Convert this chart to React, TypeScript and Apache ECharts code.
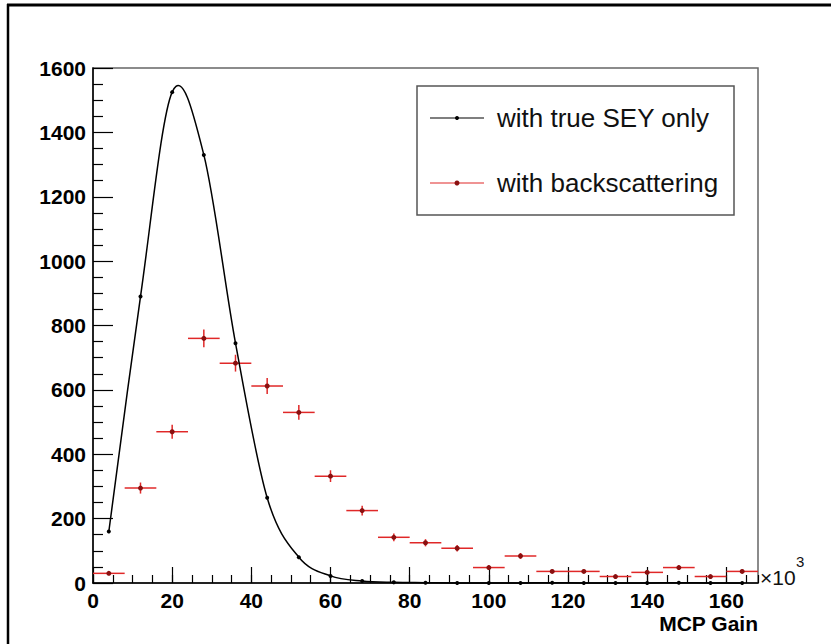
import React, { useEffect, useRef } from "react";
import * as echarts from "echarts";

// Bin centres (MCP gain, ×10^3)
const binCenters = [4, 12, 20, 28, 36, 44, 52, 60, 68, 76, 84, 92, 100, 108, 116, 124, 132, 140, 148, 156, 164];
const binHalfWidth = 4;
// "with true SEY only" counts
const trueSEY = [160, 890, 1525, 1330, 745, 265, 80, 22, 6, 2, 1, 0, 0, 0, 1, 0, 0, 0, 1, 0, 0];
// "with backscattering" counts
const backscatter = [30, 295, 470, 760, 683, 612, 530, 332, 225, 142, 125, 108, 48, 84, 36, 36, 20, 33, 48, 20, 36];

const xTicks = [0, 20, 40, 60, 80, 100, 120, 140, 160];
const yTicks = [0, 200, 400, 600, 800, 1000, 1200, 1400, 1600];

const FONT = "Liberation Sans";

export default function App() {
  const ref = useRef<HTMLDivElement>(null);
  useEffect(() => {
    if (!ref.current) return;
    const chart = echarts.init(ref.current, null, { renderer: "svg" });
    const blackData = binCenters.map((x, i) => [x, trueSEY[i]]);
    const redData = binCenters.map((x, i) => [x, backscatter[i], Math.sqrt(backscatter[i])]);
    const labelStyle = { fontSize: 21, fontWeight: "bold" as const, color: "#000", fontFamily: FONT };
    const n = blackData.length;
    chart.setOption({
      animation: false,
      backgroundColor: "#fff",
      grid: { left: 93, right: 73, top: 68, bottom: 61, show: true, borderColor: "#666", borderWidth: 1.5, backgroundColor: "transparent" },
      xAxis: [
        {
          type: "value",
          position: "bottom",
          min: 0,
          max: 168,
          interval: 20,
          axisLine: { show: true, onZero: false, lineStyle: { color: "#000", width: 1.5 } },
          axisTick: { show: true, inside: true, length: 16, lineStyle: { color: "#000", width: 1.2 } },
          splitLine: { show: false },
          axisLabel: {
            ...labelStyle,
            margin: 7,
            showMaxLabel: false,
            formatter: (v: number) => (xTicks.includes(v) ? String(v) : ""),
          },
        },
        {
          type: "value",
          position: "bottom",
          min: 0,
          max: 168,
          interval: 5,
          axisLine: { show: false, onZero: false },
          axisTick: { show: true, inside: true, length: 8, lineStyle: { color: "#000", width: 1.2 } },
          splitLine: { show: false },
          axisLabel: { show: false },
        },
      ],
      yAxis: {
        type: "value",
        min: 0,
        max: 1600,
        interval: 200,
        axisLine: { show: true, onZero: false, lineStyle: { color: "#000", width: 1.5 } },
        axisTick: { show: true, inside: true, length: 20, lineStyle: { color: "#000", width: 1.2 } },
        minorTick: { show: true, splitNumber: 4, length: 10, lineStyle: { color: "#000", width: 1.2 } },
        splitLine: { show: false },
        axisLabel: {
          ...labelStyle,
          margin: 7,
          formatter: (v: number) => (yTicks.includes(v) ? String(v) : ""),
        },
      },
      series: [
        {
          name: "with true SEY only",
          type: "custom",
          xAxisIndex: 0,
          data: blackData,
          encode: { x: 0, y: 1 },
          renderItem: (params: any, api: any) => {
            const i = params.dataIndex;
            const P = (k: number) => api.coord(blackData[Math.max(0, Math.min(n - 1, k))]);
            const p1 = P(i);
            const children: any[] = [
              { type: "circle", shape: { cx: p1[0], cy: p1[1], r: 2 }, style: { fill: "#000" }, z2: 5 },
            ];
            if (i < n - 1) {
              const p0 = P(i - 1);
              const p2 = P(i + 1);
              const p3 = P(i + 2);
              const c1 = [p1[0] + (p2[0] - p0[0]) / 6, p1[1] + (p2[1] - p0[1]) / 6];
              const c2 = [p2[0] - (p3[0] - p1[0]) / 6, p2[1] - (p3[1] - p1[1]) / 6];
              children.push({
                type: "bezierCurve",
                shape: { x1: p1[0], y1: p1[1], x2: p2[0], y2: p2[1], cpx1: c1[0], cpy1: c1[1], cpx2: c2[0], cpy2: c2[1] },
                style: { stroke: "#000", lineWidth: 1.5, fill: null },
              });
            }
            return { type: "group", children };
          },
          z: 3,
        },
        {
          name: "with backscattering",
          type: "custom",
          xAxisIndex: 0,
          data: redData,
          encode: { x: 0, y: 1 },
          renderItem: (params: any, api: any) => {
            const x = api.value(0);
            const y = api.value(1);
            const e = api.value(2);
            const l = api.coord([x - binHalfWidth, y]);
            const r = api.coord([x + binHalfWidth, y]);
            const t = api.coord([x, y + e]);
            const b = api.coord([x, y - e]);
            const c = api.coord([x, y]);
            const stroke = { stroke: "#e02828", lineWidth: 1.5 };
            return {
              type: "group",
              children: [
                { type: "line", shape: { x1: l[0], y1: l[1], x2: r[0], y2: r[1] }, style: stroke },
                { type: "line", shape: { x1: t[0], y1: t[1], x2: b[0], y2: b[1] }, style: stroke },
                { type: "circle", shape: { cx: c[0], cy: c[1], r: 2.5 }, style: { fill: "#8a1010" } },
              ],
            };
          },
          z: 2,
        },
      ],
      graphic: [
        { type: "line", shape: { x1: 8, y1: 4, x2: 8, y2: 644 }, style: { stroke: "#000", lineWidth: 2.5 } },
        { type: "line", shape: { x1: 7, y1: 5, x2: 831, y2: 5 }, style: { stroke: "#000", lineWidth: 3 } },
        { type: "rect", shape: { x: 417, y: 86, width: 317, height: 129 }, style: { fill: "#fff", stroke: "#555", lineWidth: 1.5 }, z: 10 },
        { type: "line", shape: { x1: 430, y1: 118, x2: 484, y2: 118 }, style: { stroke: "#000", lineWidth: 1.2 }, z: 11 },
        { type: "circle", shape: { cx: 457, cy: 118, r: 2 }, style: { fill: "#000" }, z: 11 },
        { type: "text", x: 497, y: 118, style: { text: "with true SEY only", fontSize: 26, fontFamily: FONT, fill: "#111", verticalAlign: "middle" }, z: 11 },
        { type: "line", shape: { x1: 430, y1: 183, x2: 484, y2: 183 }, style: { stroke: "#e02828", lineWidth: 1.2 }, z: 11 },
        { type: "circle", shape: { cx: 457, cy: 183, r: 2.5 }, style: { fill: "#8a1010" }, z: 11 },
        { type: "text", x: 497, y: 183, style: { text: "with backscattering", fontSize: 26, fontFamily: FONT, fill: "#111", verticalAlign: "middle" }, z: 11 },
        { type: "text", x: 760, y: 577, style: { text: "×10", fontSize: 21, fontFamily: FONT, fill: "#111", verticalAlign: "middle" }, z: 11 },
        { type: "text", x: 796, y: 561, style: { text: "3", fontSize: 15, fontFamily: FONT, fill: "#111", verticalAlign: "middle" }, z: 11 },
        { type: "text", x: 758, y: 623, style: { text: "MCP Gain", fontSize: 21, fontWeight: "bold", fontFamily: FONT, fill: "#000", align: "right", verticalAlign: "middle" }, z: 11 },
      ],
    });
    return () => chart.dispose();
  }, []);
  return (
    <div style={{ position: "fixed", left: 0, top: 0, width: 831, height: 644, background: "#fff" }}>
      <div ref={ref} style={{ width: 831, height: 644 }} />
    </div>
  );
}
